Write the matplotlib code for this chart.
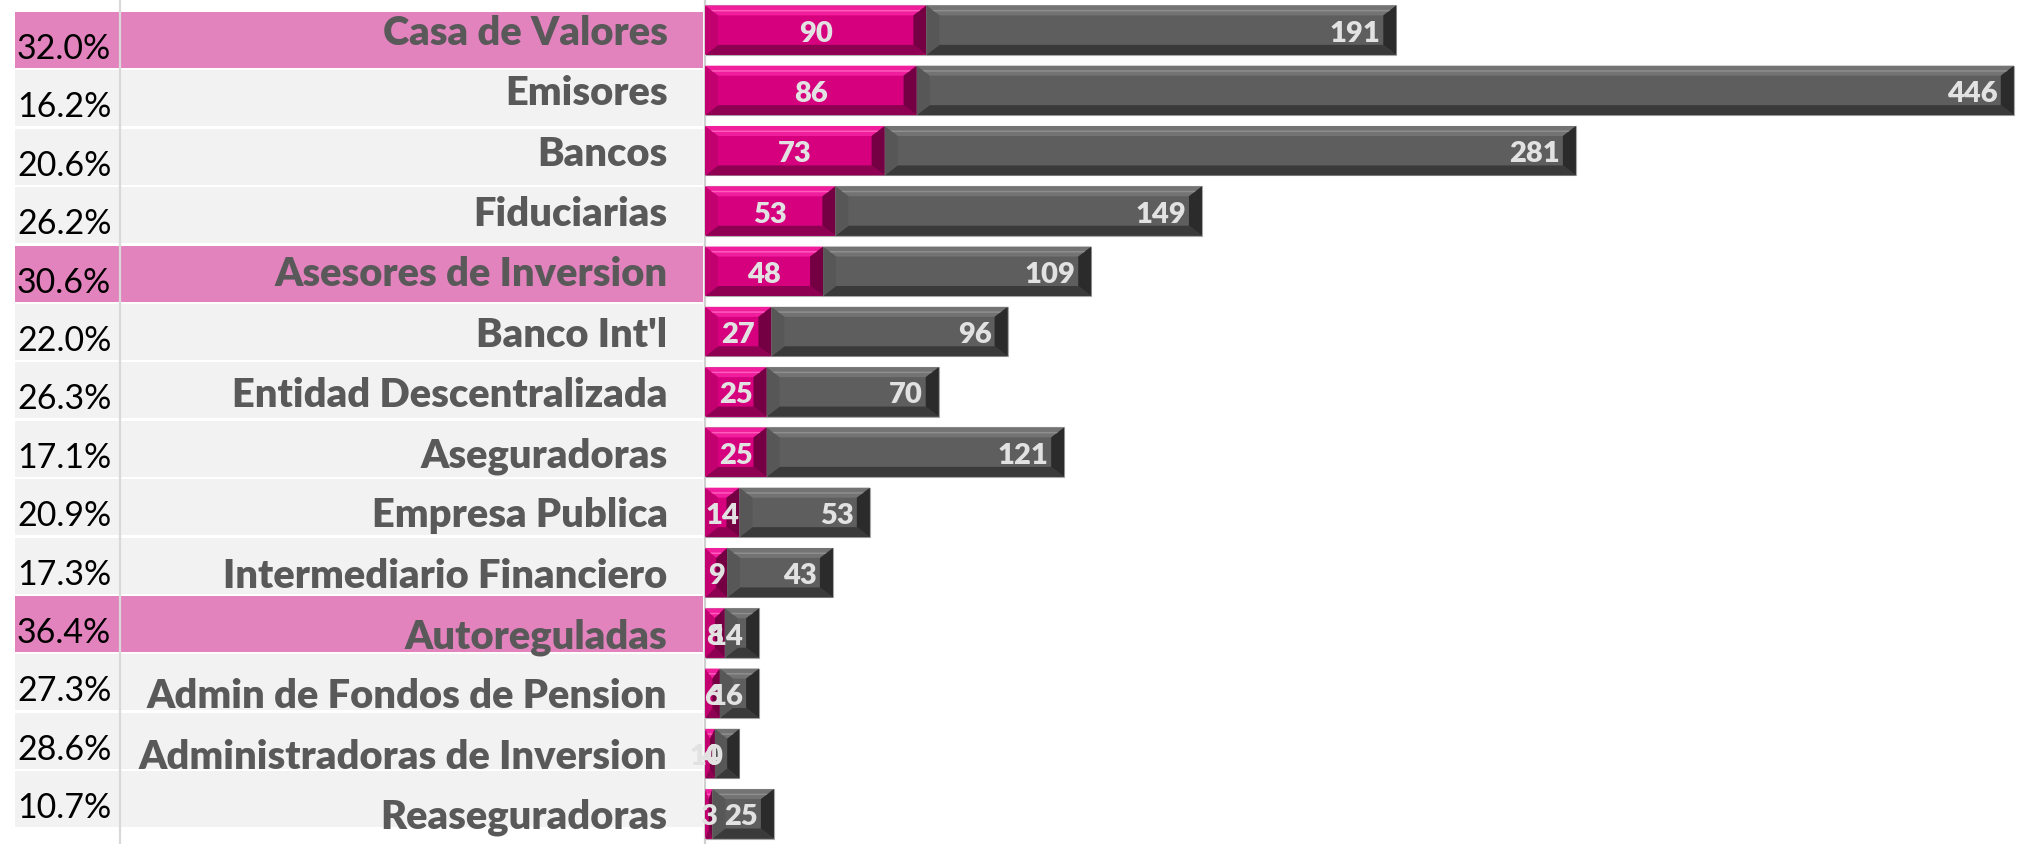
import matplotlib
matplotlib.use('Agg')
import matplotlib.pyplot as plt
from matplotlib.patches import Polygon, Rectangle

categories = ["Casa de Valores", "Emisores", "Bancos", "Fiduciarias",
              "Asesores de Inversion", "Banco Int'l", "Entidad Descentralizada",
              "Aseguradoras", "Empresa Publica", "Intermediario Financiero",
              "Autoreguladas", "Admin de Fondos de Pension",
              "Administradoras de Inversion", "Reaseguradoras"]
pink_vals = [90, 86, 73, 53, 48, 27, 25, 25, 14, 9, 8, 6, 4, 3]
gray_vals = [191, 446, 281, 149, 109, 96, 70, 121, 53, 43, 14, 16, 10, 25]
pct_labels = ["32.0%", "16.2%", "20.6%", "26.2%", "30.6%", "22.0%", "26.3%",
              "17.1%", "20.9%", "17.3%", "36.4%", "27.3%", "28.6%", "10.7%"]
highlighted = ["Casa de Valores", "Asesores de Inversion", "Autoreguladas"]

W, H = 2031, 844
fig = plt.figure(figsize=(W / 100, H / 100), dpi=100)

# ---- background table (bands + percentages) ----
ax_bg = fig.add_axes([0, 0, 1, 1])
ax_bg.set_xlim(0, W)
ax_bg.set_ylim(H, 0)
ax_bg.axis('off')
band_top0, band_pitch, band_h = 12, 58.4, 56
for i, (cat, pct) in enumerate(zip(categories, pct_labels)):
    top = band_top0 + band_pitch * i
    col = '#e383be' if cat in highlighted else '#f2f2f2'
    ax_bg.add_patch(Rectangle((15, top), 703 - 15, band_h, facecolor=col,
                              edgecolor='none', zorder=0))
    ax_bg.text(17, top + 37, pct, ha='left', va='center', fontsize=24.5,
               family='Lato', color='black', zorder=3)
ax_bg.plot([120, 120], [0, H], color='#d9d9d9', lw=1.6, zorder=2)

# ---- bar chart ----
ax_l = 705
ax = fig.add_axes([ax_l / W, 0, (W - ax_l) / W, 1])
ax.patch.set_alpha(0)
xmax = 539
ax.set_xlim(0, xmax)
ax.set_ylim(len(categories) - 0.5, -0.5)
for s in ['top', 'right', 'bottom']:
    ax.spines[s].set_visible(False)
ax.spines['left'].set_color('#d0d0d0')
ax.spines['left'].set_linewidth(1.6)
ax.set_xticks([])
ax.set_yticks(range(len(categories)))
ax.set_yticklabels(categories, fontsize=28.7, family='Lato', fontweight='heavy',
                   color='#595959')
ax.tick_params(axis='y', length=0, pad=27)

ypos = list(range(len(categories)))
bh = 0.82
bars_p = ax.barh(ypos, pink_vals, height=bh, color='#d6007f',
                 edgecolor='#b0b0b0', linewidth=0.8, zorder=2)
bars_g = ax.barh(ypos, gray_vals, left=pink_vals, height=bh, color='#5e5e5e',
                 edgecolor='#a8a8a8', linewidth=0.8, zorder=2)

ux = xmax / (W - ax_l)          # data units per pixel (x)
uy = len(categories) / H        # data units per pixel (y)
DX, DY = 13 * ux, 10 * uy

styles = {
    'pink': dict(top='#f01d9c', hl='#ff5cbc', bottom='#8e0052',
                 left='#c2006f', right='#740043'),
    'gray': dict(top='#737373', hl='#8e8e8e', bottom='#3a3a3a',
                 left='#575757', right='#2b2b2b'),
}


def bevel(patch, st):
    x0, y0 = patch.get_x(), patch.get_y()
    w, h = patch.get_width(), patch.get_height()
    x1, y1 = x0 + w, y0 + h       # y0 = visual top (inverted axis)
    dx = min(DX, w / 2)
    dy = DY
    polys = [
        ([(x0, y0), (x1, y0), (x1 - dx, y0 + dy), (x0 + dx, y0 + dy)], st['top']),
        ([(x0, y1), (x1, y1), (x1 - dx, y1 - dy), (x0 + dx, y1 - dy)], st['bottom']),
        ([(x0, y0), (x0 + dx, y0 + dy), (x0 + dx, y1 - dy), (x0, y1)], st['left']),
        ([(x1, y0), (x1 - dx, y0 + dy), (x1 - dx, y1 - dy), (x1, y1)], st['right']),
    ]
    for pts, c in polys:
        ax.add_patch(Polygon(pts, closed=True, facecolor=c, edgecolor='none',
                             zorder=3))
    # highlight stripe in top bevel
    ax.add_patch(Polygon([(x0 + dx * 0.45, y0 + dy * 0.45),
                          (x1 - dx * 0.45, y0 + dy * 0.45),
                          (x1 - dx * 0.6, y0 + dy * 0.6),
                          (x0 + dx * 0.6, y0 + dy * 0.6)],
                         closed=True, facecolor=st['hl'], edgecolor='none',
                         zorder=3))


for p in bars_p:
    bevel(p, styles['pink'])
for p in bars_g:
    bevel(p, styles['gray'])

lab_col = '#e2e2e2'
for i, (pv, gv) in enumerate(zip(pink_vals, gray_vals)):
    ax.text(pv / 2, i + 0.06, f"{pv}", ha='center', va='center', fontsize=21,
            family='Lato', fontweight='heavy', color=lab_col, zorder=5)
    ax.text(pv + gv - 16 * ux, i + 0.06, f"{gv}", ha='right', va='center',
            fontsize=21, family='Lato', fontweight='heavy', color=lab_col,
            zorder=5)

fig.savefig('out.png', dpi=100)
